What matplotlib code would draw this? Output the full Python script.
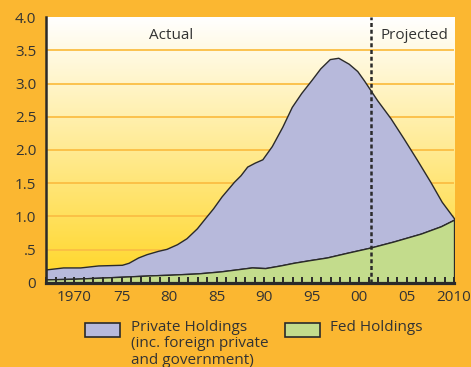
import numpy as np
import matplotlib
matplotlib.use("Agg")
import matplotlib.pyplot as plt
from matplotlib.patches import Rectangle
from matplotlib.colors import LinearSegmentedColormap

# total outstanding (private + fed), trillions
years_total = [1967, 1968.8, 1970.6, 1972.5, 1975, 1975.7, 1976.7, 1977.6, 1978.8, 1979.7,
               1980.8, 1981.8, 1982.9, 1983.8, 1984.6, 1985.5, 1986.8, 1987.5, 1988.2, 1989,
               1989.8, 1990.8, 1991.9, 1992.9, 1993.9, 1995, 1995.9, 1996.9, 1997.8, 1998.9,
               1999.8, 2000.5, 2001.2, 2001.9, 2003.3, 2004.7, 2006.1, 2007.5, 2008.7, 2010]
total = [0.20, 0.23, 0.23, 0.26, 0.27, 0.30, 0.38, 0.43, 0.48, 0.51,
         0.58, 0.67, 0.82, 0.98, 1.12, 1.30, 1.52, 1.62, 1.75, 1.81,
         1.86, 2.06, 2.35, 2.65, 2.86, 3.06, 3.23, 3.37, 3.39, 3.30,
         3.19, 3.05, 2.90, 2.75, 2.48, 2.17, 1.85, 1.52, 1.22, 0.97]

years_fed = [1967, 1970, 1975, 1978, 1980, 1983, 1985.4, 1988.7, 1990.1, 1991.7, 1993.1,
             1994.8, 1996.6, 1998.7, 2001.2, 2003.6, 2006.5, 2008.6, 2010]
fed = [0.05, 0.06, 0.09, 0.11, 0.12, 0.14, 0.17, 0.23, 0.22, 0.26, 0.30,
       0.34, 0.38, 0.45, 0.53, 0.62, 0.74, 0.85, 0.95]

year_ticks = [1970, 1975, 1980, 1985, 1990, 1995, 2000, 2005, 2010]
year_labels = ["1970", "75", "80", "85", "90", "95", "00", "05", "2010"]
y_ticks = [0, 0.5, 1.0, 1.5, 2.0, 2.5, 3.0, 3.5, 4.0]
y_labels = ["0", ".5", "1.0", "1.5", "2.0", "2.5", "3.0", "3.5", "4.0"]
split_year = 2001.2

plt.rcParams['font.family'] = ['Open Sans', 'DejaVu Sans']
bg = '#FBB731'
dark = '#2a2a2a'
txt = '#333333'
fs = 11

fig = plt.figure(figsize=(4.71, 3.67), dpi=100, facecolor=bg)
ax = fig.add_axes([0.0977, 0.2297, 0.8663, 0.7232])
ax.set_xlim(1967, 2010)
ax.set_ylim(0, 4.0)

# background gradient white -> yellow
cmap = LinearSegmentedColormap.from_list('bg', ['#FFD626', '#FFFFFF'])
grad = np.linspace(0, 1, 256).reshape(-1, 1)
ax.imshow(grad, cmap=cmap, origin='lower', aspect='auto',
          extent=[1967, 2010, 0, 4.0], zorder=0)
ax.hlines(y_ticks[1:-1], 1967, 2010, colors='#FBBE44', linewidth=1.3, zorder=0.5)

# stacked areas
all_years = sorted(set(years_total) | set(years_fed))
tot_i = np.interp(all_years, years_total, total)
fed_i = np.interp(all_years, years_fed, fed)
ax.fill_between(all_years, fed_i, tot_i, facecolor='#B7B9DB', edgecolor=dark, linewidth=1, zorder=1)
ax.fill_between(years_fed, 0, fed, facecolor='#C3DC8C', edgecolor=dark, linewidth=1, zorder=1.1)

ax.axvline(split_year, color=dark, linewidth=1.8, dashes=(1.6, 1.1), zorder=2)

ax.text(1980.2, 3.72, "Actual", ha='center', va='center', fontsize=fs, color=txt)
ax.text(2005.8, 3.73, "Projected", ha='center', va='center', fontsize=fs, color=txt)

for s in ['top', 'right']:
    ax.spines[s].set_visible(False)
ax.spines['left'].set_linewidth(1.8)
ax.spines['left'].set_color(dark)
ax.spines['bottom'].set_linewidth(2.3)
ax.spines['bottom'].set_color(dark)
ax.spines['left'].set_zorder(3)
ax.spines['bottom'].set_zorder(3)

ax.set_yticks(y_ticks)
ax.set_yticklabels(y_labels)
ax.tick_params(axis='y', length=0, pad=7, labelsize=fs, labelcolor=txt)
ax.set_xticks(year_ticks)
ax.set_xticklabels(year_labels)
ax.set_xticks(np.arange(1967, 2011), minor=True)
ax.tick_params(axis='x', which='both', direction='in', length=4.5, width=1.4, color=dark,
               pad=5, labelsize=fs, labelcolor=txt)

# legend
fig.patches.append(Rectangle((85 / 471, 1 - 336.7 / 367), 35 / 471, 14 / 367,
                             transform=fig.transFigure, facecolor='#B7B9DB',
                             edgecolor=dark, linewidth=1.2))
fig.patches.append(Rectangle((285 / 471, 1 - 336.7 / 367), 35 / 471, 14 / 367,
                             transform=fig.transFigure, facecolor='#C3DC8C',
                             edgecolor=dark, linewidth=1.2))
fig.text(131 / 471, 1 - 320 / 367, "Private Holdings\n(inc. foreign private\nand government)",
         ha='left', va='top', fontsize=fs, color=txt, linespacing=1.12)
fig.text(330 / 471, 1 - 320 / 367, "Fed Holdings", ha='left', va='top', fontsize=fs, color=txt)

fig.savefig('out.png', dpi=100, facecolor=bg)
